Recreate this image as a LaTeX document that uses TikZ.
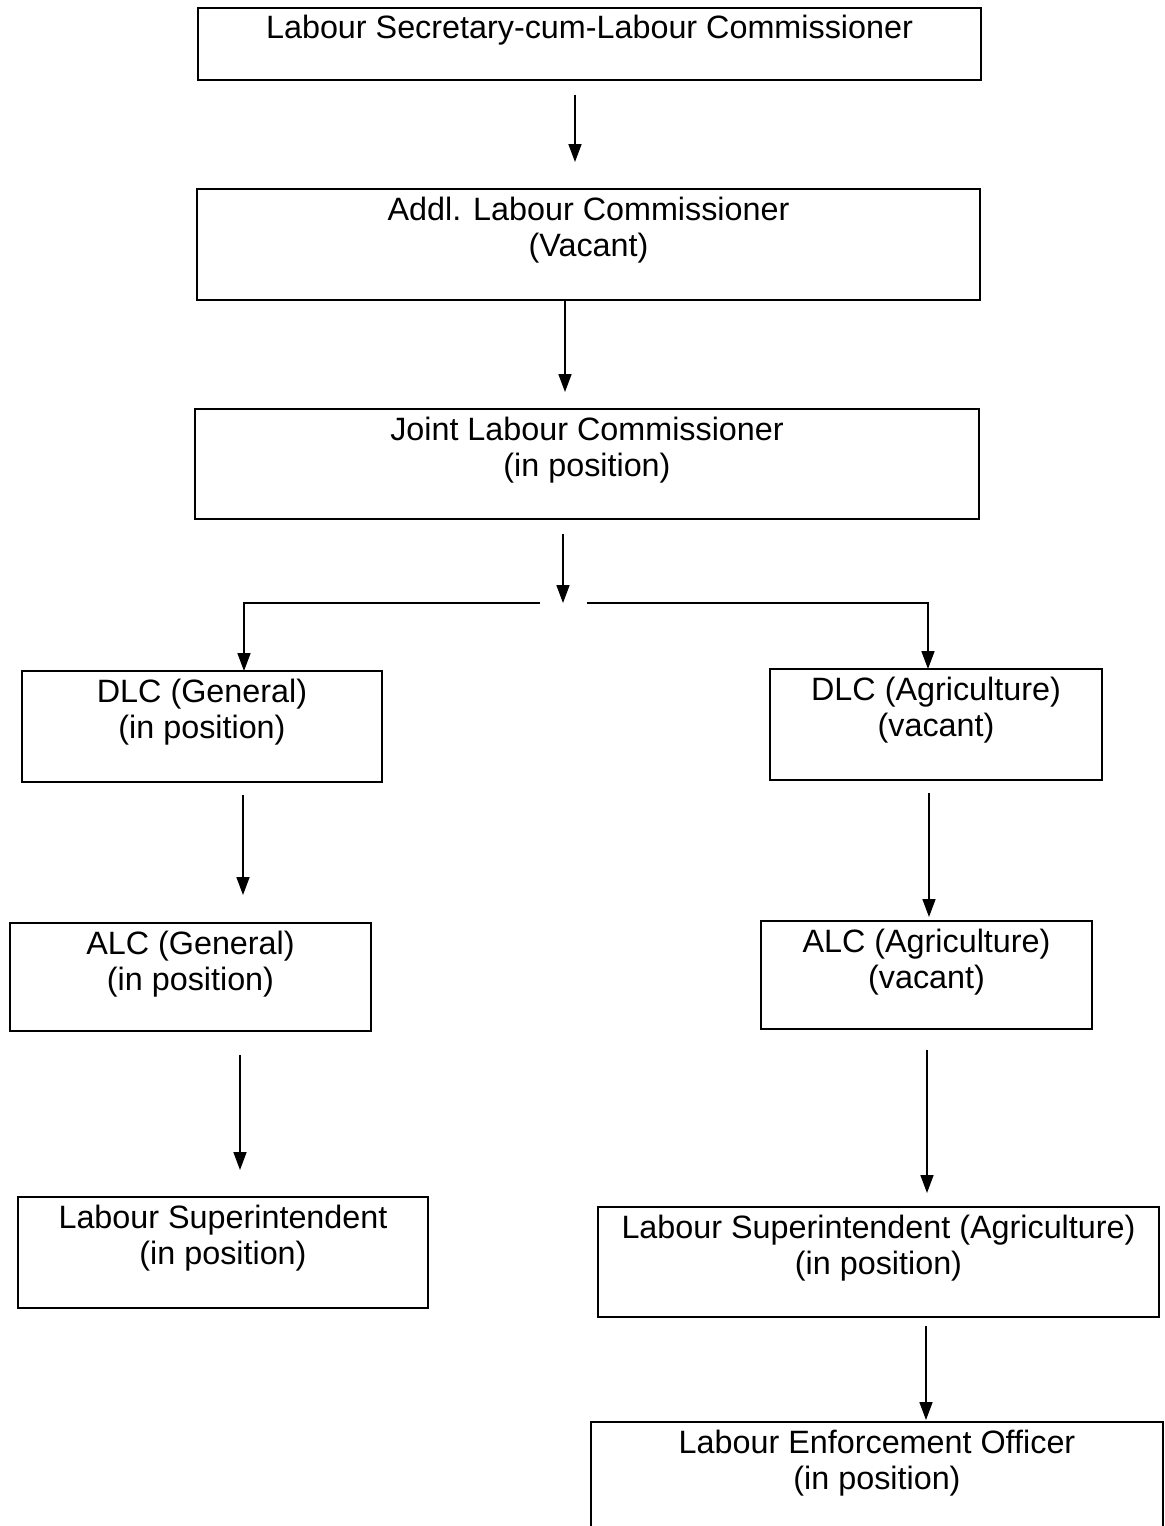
\documentclass[tikz,border=0pt]{standalone}
\usepackage{fontspec}
\setmainfont{Liberation Sans}
\usetikzlibrary{arrows.meta, positioning}

\begin{document}
\begin{tikzpicture}[x=0.02cm, y=-0.02cm,
    post/.style={draw, line width=0.9pt, inner sep=0pt, outer sep=0pt},
    title/.style={inner sep=0pt, align=center, font=\fontsize{18.4}{20.3}\selectfont},
    arr/.style={line width=0.9pt, -{Triangle[length=0.36cm, width=0.26cm]}},
    link/.style={line width=0.9pt}]
    \useasboundingbox (0,0) rectangle (1165,1526);
    \clip (0,0) rectangle (1165,1526);

    % Top of the chain
    \node[post, minimum width=15.66cm, minimum height=1.44cm] (sec) at (589.5,44) {};
    \node[title, below=0.14cm of sec.north] (secT) {Labour Secretary-cum-Labour Commissioner};
    \node[post, minimum width=15.66cm, minimum height=2.22cm] (addl) at (588.5,244.5) {};
    \node[title, below=0.16cm of addl.north] (addlT) {Addl. Labour Commissioner\\(Vacant)};
    \node[post, minimum width=15.68cm, minimum height=2.2cm] (joint) at (587,464) {};
    \node[title, below=0.16cm of joint.north] (jointT) {Joint Labour Commissioner\\(in position)};

    % General wing
    \node[post, minimum width=7.2cm, minimum height=2.22cm] (dlcg) at (202,726.5) {};
    \node[title, below=0.16cm of dlcg.north] (dlcgT) {DLC (General)\\(in position)};
    \node[post, minimum width=7.22cm, minimum height=2.16cm] (alcg) at (190.5,977) {};
    \node[title, below=0.16cm of alcg.north] (alcgT) {ALC (General)\\(in position)};
    \node[post, minimum width=8.2cm, minimum height=2.22cm] (lsg) at (223,1252.5) {};
    \node[title, below=0.16cm of lsg.north] (lsgT) {Labour Superintendent\\(in position)};

    % Agriculture wing
    \node[post, minimum width=6.64cm, minimum height=2.22cm] (dlca) at (936,724.5) {};
    \node[title, below=0.16cm of dlca.north] (dlcaT) {DLC (Agriculture)\\(vacant)};
    \node[post, minimum width=6.62cm, minimum height=2.16cm] (alca) at (926.5,975) {};
    \node[title, below=0.16cm of alca.north] (alcaT) {ALC (Agriculture)\\(vacant)};
    \node[post, minimum width=11.22cm, minimum height=2.2cm] (lsa) at (878.5,1262) {};
    \node[title, below=0.16cm of lsa.north] (lsaT) {Labour Superintendent (Agriculture)\\(in position)};
    \node[post, minimum width=11.44cm, minimum height=3.6cm] (leo) at (877,1512) {};
    \node[title, below=0.16cm of leo.north] (leoT) {Labour Enforcement Officer\\(in position)};

    % Connectors
    \coordinate (split) at (563,603);
    \coordinate (splitL) at (540,603);
    \coordinate (splitR) at (587,603);
    \draw[arr, shorten <=0.3cm, shorten >=0.54cm] (sec.south -| 575,0) -- (addl.north -| 575,0);
    \draw[arr, shorten >=0.34cm] (addl.south -| 565,0) -- (joint.north -| 565,0);
    \draw[arr, shorten <=0.3cm] (joint.south -| 563,0) -- (split);
    \draw[arr] (splitL) -| (dlcg.north -| 244,0);
    \draw[arr] (splitR) -| (dlca.north -| 928,0);
    \draw[arr, shorten <=0.26cm, shorten >=0.56cm] (dlcg.south -| 243,0) -- (alcg.north -| 243,0);
    \draw[arr, shorten <=0.26cm, shorten >=0.08cm] (dlca.south -| 929,0) -- (alca.north -| 929,0);
    \draw[arr, shorten <=0.48cm, shorten >=0.54cm] (alcg.south -| 240,0) -- (lsg.north -| 240,0);
    \draw[arr, shorten <=0.42cm, shorten >=0.28cm] (alca.south -| 927,0) -- (lsa.north -| 927,0);
    \draw[arr, shorten <=0.18cm, shorten >=0.04cm] (lsa.south -| 926,0) -- (leo.north -| 926,0);
\end{tikzpicture}
\end{document}
